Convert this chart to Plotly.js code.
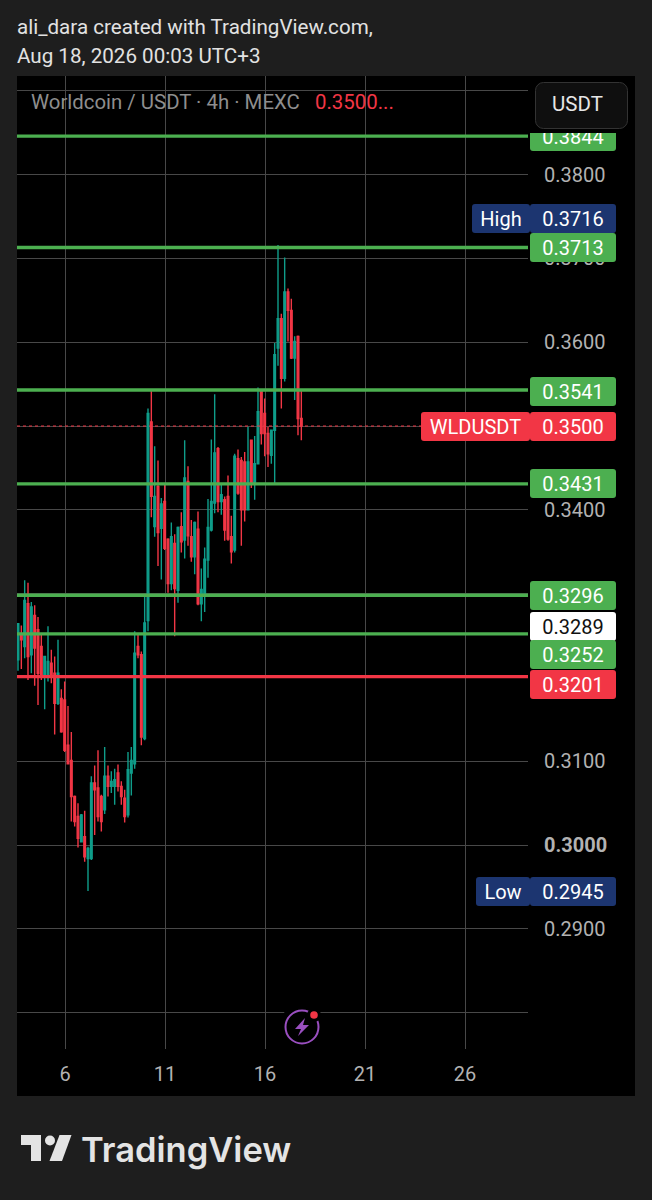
<!DOCTYPE html>
<html><head><meta charset="utf-8">
<script src="https://cdn.plot.ly/plotly-3.0.1.min.js"></script>
<style>html,body{margin:0;padding:0;background:#1e1e1e}</style></head>
<body><div id="chart" style="width:652px;height:1200px"></div>
<script>
// ---------- data ----------
const firstCandleDay = 3.65, candleStepDays = 1/6;
const open  = [.3221,.3251,.3237,.3288,.3227,.3274,.3257,.3237,.3201,.3201,.3217,.3205,.3169,.3175,.3173,.3119,.3101,.3058,.3034,.3004,.3010,.2984,.2984,.3074,.3068,.3058,.3042,.3082,.3070,.3070,.3086,.3070,.3056,.3036,.3086,.3097,.3237,.3227,
 .3127,.3268,.3505,.3380,.3428,.3378,.3410,.3365,.3312,.3360,.3304,.3380,.3364,.3434,.3368,.3344,.3377,.3288,.3300,.3340,.3376,.3408,.3473,.3410,.3412,.3416,.3368,.3352,.3461,.3459,.3457,.3400,.3483,.3432,.3455,.3543,.3515,.3491,.3465,
 .3495,.3593,.3628,.3557,.3660,.3638,.3581,.3607,.3509];
const high  = [.3265,.3262,.3316,.3313,.3290,.3286,.3272,.3251,.3226,.3261,.3233,.3225,.3245,.3186,.3195,.3166,.3135,.3059,.3050,.3037,.3041,.2998,.3082,.3095,.3113,.3060,.3117,.3095,.3088,.3091,.3096,.3076,.3066,.3111,.3117,.3255,.3253,.3231,
 .3298,.3521,.3542,.3476,.3459,.3414,.3431,.3366,.3385,.3371,.3380,.3397,.3483,.3452,.3388,.3386,.3398,.3330,.3355,.3413,.3484,.3538,.3475,.3430,.3416,.3441,.3393,.3467,.3472,.3463,.3469,.3499,.3484,.3488,.3546,.3544,.3533,.3499,.3496,
 .3599,.3716,.3634,.3701,.3664,.3652,.3607,.3608,.3543];
const low   = [.3208,.3210,.3223,.3197,.3205,.3190,.3167,.3197,.3162,.3195,.3193,.3132,.3167,.3134,.3111,.3097,.3028,.3022,.2997,.3003,.2980,.2945,.2982,.3012,.3028,.3016,.3037,.3058,.3062,.3048,.3064,.3048,.3027,.3033,.3059,.3091,.3223,.3119,
 .3125,.3255,.3391,.3368,.3333,.3317,.3352,.3301,.3304,.3249,.3289,.3349,.3342,.3357,.3338,.3323,.3286,.3267,.3278,.3319,.3374,.3396,.3397,.3394,.3363,.3363,.3336,.3349,.3418,.3357,.3386,.3400,.3426,.3412,.3455,.3478,.3464,.3451,.3455,
 .3432,.3572,.3521,.3553,.3601,.3580,.3531,.3489,.3483];
const close = [.3264,.3245,.3292,.3225,.3284,.3235,.3205,.3201,.3225,.3219,.3201,.3169,.3205,.3135,.3113,.3097,.3058,.3028,.3008,.3036,.2986,.2996,.3074,.3066,.3034,.3028,.3082,.3070,.3076,.3078,.3070,.3058,.3034,.3090,.3101,.3229,.3227,.3129,
 .3265,.3515,.3416,.3416,.3373,.3407,.3354,.3312,.3368,.3306,.3379,.3362,.3438,.3369,.3344,.3385,.3288,.3305,.3341,.3379,.3410,.3468,.3410,.3418,.3376,.3365,.3350,.3464,.3420,.3400,.3400,.3457,.3432,.3455,.3517,.3491,.3491,.3467,.3495,
 .3585,.3628,.3557,.3660,.3638,.3581,.3601,.3509,.3500];

const gridPrices  = [.28,.29,.30,.31,.32,.33,.34,.35,.36,.37,.38,.39];
const gridLabels  = ['','0.2900','<b>0.3000</b>','0.3100','','','0.3400','','0.3600','0.3700','0.3800',''];
const dayTicks    = [6,11,16,21,26];

const levelPrices = [.3846,.3713,.3543,.3431,.3298,.3252,.3201];
const levelColors = ['#4caf50','#4caf50','#4caf50','#4caf50','#4caf50','#4caf50','#f23645'];
const lastPrice   = .3500;

const tagPrices = [.3844,.3713,.3716,.3541,.3500,.3431,.3296,.3289,.3252,.3201,.2945];
const tagTexts  = ['0.3844','0.3713','0.3716','0.3541','0.3500','0.3431','0.3296','0.3289','0.3252','0.3201','0.2945'];
const tagFills  = ['#4caf50','#4caf50','#1c3570','#4caf50','#f23645','#4caf50','#4caf50','#ffffff','#4caf50','#f23645','#1c3570'];
const tagInks   = ['#fff','#fff','#fff','#fff','#fff','#fff','#fff','#111','#fff','#fff','#fff'];
const tagShifts = [1,0,27,0,0,0,1,-24,-21,-8,0];
const sideTags  = {'0.3716':'High','0.3500':'WLDUSDT','0.2945':'Low'};

// ---------- page geometry ----------
const L=17,R=528,T=76,B=1049;
const xp=px=>(px-L)/(R-L), yp=py=>(B-py)/(B-T);
const dates=open.map((_,i)=>firstCandleDay+i*candleStepDays);
const FONT='Roboto, sans-serif';
const GRID='#484848', AXIS='#b2b2b2';

const trace={type:'candlestick',x:dates,open,high,low,close,whiskerwidth:0,hoverinfo:'skip',
  increasing:{line:{color:'#0f9d8a',width:1.4},fillcolor:'#0f9d8a'},
  decreasing:{line:{color:'#f23645',width:1.4},fillcolor:'#f23645'}};

const shapes=[];
const rectP=(x0,y0,x1,y1,fill,layer)=>({type:'rect',xref:'paper',yref:'paper',x0:xp(x0),x1:xp(x1),y0:yp(y0),y1:yp(y1),fillcolor:fill,line:{width:0},layer:layer||'below'});
shapes.push(rectP(17,76,635,1096,'#000'));
levelPrices.forEach((p,i)=>shapes.push({type:'line',xref:'paper',yref:'y',x0:0,x1:1,y0:p,y1:p,line:{color:levelColors[i],width:3.4},layer:'above'}));
shapes.push({type:'line',xref:'paper',yref:'y',x0:0,x1:1,y0:lastPrice,y1:lastPrice,line:{color:'#f23645',width:1,dash:'dot'},layer:'above'});
const circ=(cx,cy,r,fill,lc,lw)=>({type:'circle',xref:'paper',yref:'paper',x0:xp(cx-r),x1:xp(cx+r),y0:yp(cy-r),y1:yp(cy+r),fillcolor:fill,line:{color:lc||fill,width:lw||0},layer:'above'});
const poly=(pts,fill)=>({type:'path',xref:'paper',yref:'paper',path:'M'+pts.map(q=>xp(q[0])+','+yp(q[1])).join('L')+'Z',fillcolor:fill,line:{width:0},layer:'above'});
// lightning badge
shapes.push(circ(302,1027,23,'#000'));
shapes.push(circ(302,1027,16.5,'rgba(0,0,0,0)','#9a4fc0',2));
shapes.push(circ(314,1015,7,'#000'));
shapes.push(circ(314,1015,3.8,'#f23645'));
shapes.push(poly([[305,1018],[295,1029],[301,1029],[298,1036],[309,1025],[303,1025]],'#9a4fc0'));
// TradingView mark
const LOGO='#e4e4e4';
shapes.push(poly([[21,1135],[41,1135],[41,1161],[31,1161],[31,1145],[21,1145]],LOGO));
shapes.push(circ(50,1140.5,5,LOGO));
shapes.push(poly([[59.5,1135],[71.5,1135],[62,1161],[49.5,1161]],LOGO));

const ann=[];
const radii=[];
const txt=(text,px,py,size,color,extra)=>{ann.push(Object.assign({text,xref:'paper',yref:'paper',x:xp(px),y:yp(py),xanchor:'left',yanchor:'middle',showarrow:false,align:'left',font:{family:FONT,size,color}},extra||{}));radii.push(0);};
txt('ali_dara created with TradingView.com,',15,27,20.6,'#e2e2e2');
txt('Aug 18, 2026 00:03 UTC+3',15,56,20.6,'#e2e2e2');
txt('Worldcoin / USDT · 4h · MEXC &nbsp;&nbsp;<span style="color:#f23645">0.3500...</span>',29,102,20.4,'#8e8e8e');
txt('TradingView',79,1149,34.5,LOGO,{font:{family:'Inter, sans-serif',size:34.5,color:LOGO,weight:600}});

tagPrices.forEach((p,i)=>{
  const common={xref:'paper',yref:'y',y:p,yshift:tagShifts[i],yanchor:'middle',showarrow:false,height:29,borderpad:0,borderwidth:0,align:'center',valign:'middle'};
  const side=sideTags[tagTexts[i]];
  if(side){
    const w=side==='WLDUSDT'?109:(side==='High'?58:54);
    ann.push(Object.assign({},common,{text:side,x:xp(530),xanchor:'right',width:w,bgcolor:tagFills[i],font:{family:FONT,size:20,color:'#fff'}}));
    radii.push(3);
  }
  ann.push(Object.assign({},common,{text:tagTexts[i],x:xp(530),xanchor:'left',width:86,bgcolor:tagFills[i],font:{family:FONT,size:20,color:tagInks[i]}}));
  radii.push(3);
});
// currency button sits above the top tag
ann.push({text:' ',xref:'paper',yref:'paper',x:xp(529),y:yp(76),xanchor:'left',yanchor:'top',width:106,height:57,bgcolor:'#000',showarrow:false,borderpad:0,borderwidth:0});radii.push(0);
ann.push({text:' ',xref:'paper',yref:'paper',x:xp(535),y:yp(82),xanchor:'left',yanchor:'top',width:91,height:45,bgcolor:'#0f0f0f',bordercolor:'#333',borderwidth:1,borderpad:0,showarrow:false});radii.push(8);
txt('USDT',550,104,20.5,'#e6e6e6');

const layout={width:652,height:1200,margin:{l:L,r:652-R,t:T,b:1200-B,pad:0},autosize:false,showlegend:false,
  paper_bgcolor:'#1e1e1e',plot_bgcolor:'#000',hovermode:false,dragmode:false,shapes,annotations:ann,
  xaxis:{type:'linear',range:[3.6,29.15],tickvals:dayTicks,ticktext:dayTicks.map(String),showgrid:true,gridcolor:GRID,gridwidth:1,zeroline:false,showline:false,
    rangeslider:{visible:false},ticks:'outside',ticklen:7,tickcolor:'rgba(0,0,0,0)',tickfont:{family:FONT,size:20,color:AXIS}},
  yaxis:{side:'right',type:'linear',range:[.27566,.39177],tickvals:gridPrices,ticktext:gridLabels,showgrid:true,gridcolor:GRID,gridwidth:1,zeroline:false,showline:false,
    ticks:'outside',ticklen:11,tickcolor:'rgba(0,0,0,0)',tickfont:{family:FONT,size:20,color:AXIS}}};

Plotly.newPlot('chart',[trace],layout,{displayModeBar:false,staticPlot:true}).then(()=>{
  document.querySelectorAll('#chart .annotation').forEach(g=>{
    const i=+g.getAttribute('data-index');
    const r=g.querySelector('rect.bg');
    if(r&&radii[i]){r.setAttribute('rx',radii[i]);r.setAttribute('ry',radii[i]);}
  });
});
</script></body></html>
